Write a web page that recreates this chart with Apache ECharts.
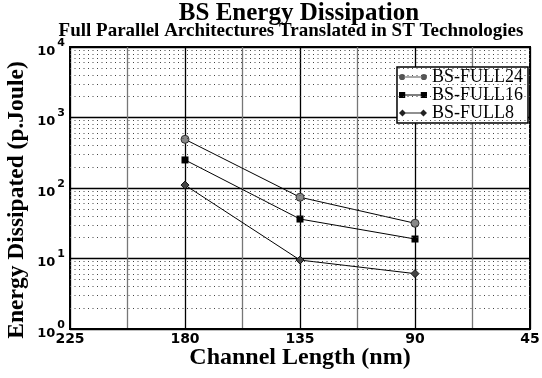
<!DOCTYPE html>
<html><head><meta charset="utf-8">
<script src="https://cdn.jsdelivr.net/npm/echarts@6/dist/echarts.min.js"></script>
<style>html,body{margin:0;padding:0;background:#fff}#c{width:542px;height:378px}</style>
</head><body><div id="c"></div>
<script>
const channelLength = [180, 135, 90];
const full24 = [490, 74, 31.6];
const full16 = [250, 36.3, 18.9];
const full8 = [110, 9.5, 6.1];
const xTicks = [225, 180, 135, 90, 45];
const minorGrid = [2,3,4,5,6,7,8,9,20,30,40,50,60,70,80,90,200,300,400,500,600,700,800,900,2000,3000,4000,5000,6000,7000,8000,9000];

const chart = echarts.init(document.getElementById('c'), null, {renderer:'canvas'});
const serif = '"Liberation Serif", "Times New Roman", serif';
const sans = '"DejaVu Sans", sans-serif';
function pairs(v){ return channelLength.map((x,i)=>[x,v[i]]); }
const lineStyle = {color:'#000', width:1};
const iconCircle = 'path://M0.5,3.5a3,3 0 1,0 6,0a3,3 0 1,0 -6,0Z M6,3H22V4H6Z M21.5,3.5a3,3 0 1,0 6,0a3,3 0 1,0 -6,0Z';
const iconRect = 'path://M0.5,0.5H6.5V6.5H0.5Z M6,3H22V4H6Z M21.5,0.5H27.5V6.5H21.5Z';
const iconDiamond = 'path://M0,3.5L3.5,0L7,3.5L3.5,7Z M6,3H22V4H6Z M21,3.5L24.5,0L28,3.5L24.5,7Z';
chart.setOption({
  animation:false,
  backgroundColor:'#fff',
  title:[
    {text:'BS Energy Dissipation', left:294, top:-4, textAlign:'center',
     textStyle:{fontFamily:serif, fontWeight:'bold', fontSize:25, color:'#000'}},
    {text:'Full Parallel Architectures Translated in ST Technologies', left:286, top:17, textAlign:'center',
     textStyle:{fontFamily:serif, fontWeight:'bold', fontSize:19, color:'#000'}}
  ],
  legend:{
    orient:'vertical', right:14, top:67, backgroundColor:'#fff',
    borderColor:'#000', borderWidth:1.5, padding:[1,5,1,2], itemGap:0,
    itemWidth:28, itemHeight:7, itemStyle:{borderWidth:0},
    textStyle:{fontFamily:serif, fontSize:18, color:'#000', lineHeight:16.5},
    data:[
      {name:'BS-FULL24', icon:iconCircle, itemStyle:{color:'#555'}},
      {name:'BS-FULL16', icon:iconRect, itemStyle:{color:'#000'}},
      {name:'BS-FULL8', icon:iconDiamond, itemStyle:{color:'#222'}}
    ]
  },
  grid:{left:70, right:12, top:47, bottom:49, show:true, borderColor:'#000', borderWidth:2, outerBoundsMode:'none'},
  xAxis:{
    type:'value', inverse:true, min:45, max:225, interval:22.5,
    axisLine:{show:true, lineStyle:{color:'#000', width:2}},
    axisTick:{show:false},
    axisLabel:{fontFamily:sans, fontWeight:'bold', fontSize:14, color:'#000', margin:3,
      showMinLabel:true, showMaxLabel:true,
      formatter:v=> xTicks.includes(v) ? String(v) : ''},
    splitLine:{show:true, lineStyle:{color:['#000','#777'], width:1.3}}
  },
  yAxis:{
    type:'log', logBase:10, min:1, max:10000,
    axisLine:{show:true, lineStyle:{color:'#000', width:2}},
    axisTick:{show:false},
    axisLabel:{color:'#000', margin:5,
      formatter:v=>'{b|10}{s|'+Math.round(Math.log10(v))+'}',
      rich:{b:{fontFamily:sans, fontWeight:'bold', fontSize:13, color:'#000', padding:[9,0,0,0]},
            s:{fontFamily:sans, fontWeight:'bold', fontSize:11, color:'#000', padding:[0,0,8,2]}}},
    splitLine:{show:true, lineStyle:{color:'#000', width:1.3}}
  },
  graphic:[
    {type:'text', x:300, y:346, style:{text:'Channel Length (nm)', fontFamily:serif, fontWeight:'bold', fontSize:24, fill:'#000', textAlign:'center', textVerticalAlign:'top'}},
    {type:'text', x:17, y:200, rotation:Math.PI/2, style:{text:'Energy Dissipated (p.Joule)', fontFamily:serif, fontWeight:'bold', fontSize:23.5, fill:'#000', textAlign:'center', textVerticalAlign:'middle'}}
  ],
  series:[
    {name:'grid', type:'line', data:[], silent:true,
     markLine:{silent:true, symbol:'none', label:{show:false},
       lineStyle:{color:'#444', width:1, type:[1,3.5]},
       data:minorGrid.map(v=>({yAxis:v}))}},
    {name:'BS-FULL24', type:'line', data:pairs(full24), symbol:'circle', symbolSize:8,
     lineStyle, itemStyle:{color:'#888', borderColor:'#333', borderWidth:1}},
    {name:'BS-FULL16', type:'line', data:pairs(full16), symbol:'rect', symbolSize:7,
     lineStyle, itemStyle:{color:'#000', borderColor:'#000', borderWidth:0}},
    {name:'BS-FULL8', type:'line', data:pairs(full8), symbol:'diamond', symbolSize:8,
     lineStyle, itemStyle:{color:'#444', borderColor:'#111', borderWidth:1}}
  ]
});
</script></body></html>
